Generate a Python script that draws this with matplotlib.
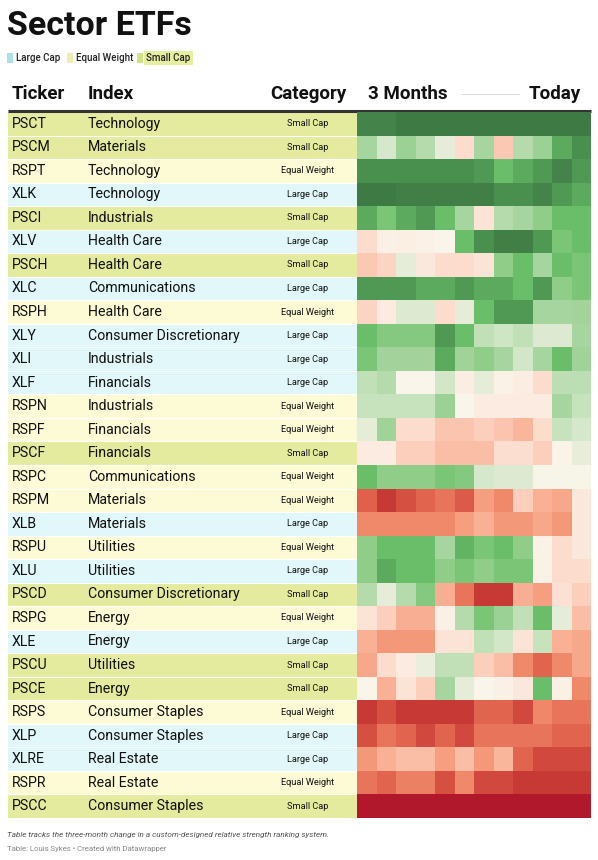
import matplotlib
matplotlib.use("Agg")
import matplotlib.pyplot as plt
import numpy as np
from matplotlib.colors import LinearSegmentedColormap
from matplotlib.patches import Rectangle

plt.rcParams['font.family'] = ['Roboto', 'DejaVu Sans']

# --- data ---
tickers = ["PSCT", "PSCM", "RSPT", "XLK", "PSCI", "XLV", "PSCH", "XLC", "RSPH", "XLY",
           "XLI", "XLF", "RSPN", "RSPF", "PSCF", "RSPC", "RSPM", "XLB", "RSPU", "XLU",
           "PSCD", "RSPG", "XLE", "PSCU", "PSCE", "RSPS", "XLP", "XLRE", "RSPR", "PSCC"]
indexes = ["Technology", "Materials", "Technology", "Technology", "Industrials", "Health Care",
           "Health Care", "Communications", "Health Care", "Consumer Discretionary",
           "Industrials", "Financials", "Industrials", "Financials", "Financials",
           "Communications", "Materials", "Materials", "Utilities", "Utilities",
           "Consumer Discretionary", "Energy", "Energy", "Utilities", "Energy",
           "Consumer Staples", "Consumer Staples", "Real Estate", "Real Estate", "Consumer Staples"]
categories = ["Small Cap", "Small Cap", "Equal Weight", "Large Cap", "Small Cap", "Large Cap",
              "Small Cap", "Large Cap", "Equal Weight", "Large Cap", "Large Cap", "Large Cap",
              "Equal Weight", "Equal Weight", "Small Cap", "Equal Weight", "Equal Weight",
              "Large Cap", "Equal Weight", "Large Cap", "Small Cap", "Equal Weight", "Large Cap",
              "Small Cap", "Small Cap", "Equal Weight", "Large Cap", "Large Cap", "Equal Weight",
              "Small Cap"]

# relative strength score, 12 steps from 3 months ago to today (-10 weak .. +10 strong)
strength = [
    [9, 9, 10, 10, 10, 10, 10, 10, 10, 10, 10, 10],
    [5, 3, 5.5, 4.5, 2, -2, 5, -3, 4.5, 5.5, 7.5, 8.5],
    [8.5, 8.5, 8.5, 8.5, 8.5, 8.5, 8, 7, 7.5, 8, 9, 8],
    [10, 10, 9.5, 9.5, 9.5, 9.5, 9.5, 8.5, 8.5, 9, 8, 7.5],
    [7.5, 6.5, 7.5, 8, 7, 5, -1.5, 4.5, 5, 6, 7, 7],
    [-2, -0.5, -0.7, -0.3, 0, 7, 8.5, 9.5, 9.5, 8, 6.5, 7],
    [-3, -2.5, 2, -1.2, -2, -2, -1.5, 6, 7, 5, 7, 6.5],
    [8, 8, 8, 7.5, 7.5, 8, 7.5, 7.5, 7, 8, 6, 6.5],
    [-2.5, -1, 2.5, 2.5, -2, 2, 7, 8, 8, 5, 5, 5.2],
    [7, 6.3, 6.3, 6.3, 8, 7, 4, 3.5, 4, 2.5, 2.5, 5],
    [6.5, 5.2, 5.2, 5.2, 7.5, 5.3, 6, 5, 3.3, 5, 7, 5.3],
    [4, 4.5, 0, 0, 3.3, -0.8, 2, -0.3, -0.8, -2, 4.2, 4.2],
    [3.8, 3.8, 3.8, 3.8, 5.5, 0, -1, -1, -1, -1, 5, 3.8],
    [2, 5.3, -2, -2, -3.2, -3.2, -2.7, -3.2, -3.8, -2, 3.8, 3],
    [-1, -1, -2.7, -2.7, -3.5, -3.5, -3.5, -1.8, -1.8, -2.7, -0.2, 1.8],
    [7, 6, 6, 6, 6.5, 6.3, 3, 2.5, 2.5, 0.3, 0.3, 0.3],
    [-7, -8.7, -7.7, -6.8, -6.2, -7.2, -4.7, -5.5, -2.7, -4, -4.3, -1.2],
    [-5.5, -5.5, -5.5, -5.5, -5.5, -4.7, -4, -5, -5, -4.3, -5, -1.2],
    [6, 7, 7, 7, 5, 7.3, 6.5, 7, 6, -0.3, -2, -1.2],
    [6, 7.5, 7, 7, 6, 6.5, 6, 6.5, 6.5, -0.3, -2, -2],
    [4.5, 2, 4.5, 6.3, -4.1, -6.2, -8.7, -8.7, -4.1, -4.7, -1.7, -2.7],
    [-1.5, -2.7, -4.1, -4.1, -0.5, 4.5, 6.5, 5.5, 4, 7, 2, -3.5],
    [-4, -5, -5, -5, -1.5, -1.5, 4, 3.3, -1.5, 3.8, -4, -4.3],
    [-4.3, -2, -1, 1.5, 4, 4, -2.7, -3.5, -5.5, -6.8, -5.5, -4.3],
    [0, -4, -1.5, -2.7, 5, 2, 0, -0.5, -1.2, 7, -0.5, -5.5],
    [-8.7, -7.7, -8.7, -8.7, -8.7, -8.7, -6.8, -6.8, -8, -5.6, -6.2, -6.2],
    [-7.7, -6.2, -6.8, -8, -6.8, -8, -6.2, -6.2, -6.2, -6.2, -6.8, -6.8],
    [-5, -4, -3.5, -3.5, -4.7, -3.5, -5, -3.8, -6.8, -8, -8, -8],
    [-6.2, -6.8, -5.8, -5.8, -7.7, -5.5, -8, -8, -8.7, -8.7, -8.7, -8.7],
    [-10, -10, -10, -10, -10, -10, -10, -10, -10, -10, -10, -10],
]

# --- styles ---
cat_bg = {"Large Cap": "#e1f7f9", "Equal Weight": "#fdfbd6", "Small Cap": "#e4eb9f"}
cat_key = {"Large Cap": "#ace0e6", "Equal Weight": "#f1ecb1", "Small Cap": "#d3e286"}

anchors = [(-10, "#b2182b"), (-8.7, "#c83a35"), (-7, "#e0604c"), (-5.5, "#f08a6a"),
           (-4, "#f9b195"), (-2.5, "#fcd4c3"), (-1, "#fbebe0"), (0, "#faf5ea"),
           (2, "#e5ecd8"), (3.5, "#cfe6c5"), (5, "#a8d5a0"), (6, "#8fcd89"),
           (7, "#6bbf69"), (8, "#4f9a54"), (9, "#448449"), (10, "#3e7a44")]
cmap = LinearSegmentedColormap.from_list(
    "rs", [((v + 10) / 20, c) for v, c in anchors])

W, H = 598, 860
fig = plt.figure(figsize=(W / 100, H / 100), dpi=100)
bg = fig.add_axes([0, 0, 1, 1])
bg.set_xlim(0, W)
bg.set_ylim(H, 0)
bg.axis("off")

top, bottom = 112, 818
row_h = (bottom - top) / len(tickers)
hx0, hx1 = 357, 591

# title + legend
bg.text(7, 26, "Sector ETFs", fontsize=24.5, fontweight="bold", color="#111111", va="center")
leg_x = 7
for cat in ["Large Cap", "Equal Weight", "Small Cap"]:
    bg.add_patch(Rectangle((leg_x, 52.5), 6, 10, color=cat_key[cat], lw=0))
    if cat == "Small Cap":
        bg.text(leg_x + 9, 58, cat, fontsize=7, fontweight="medium", color="#222222",
                va="center", bbox=dict(boxstyle="square,pad=0.25", fc="#e6ef9f", ec="none"))
        w = 50
    else:
        bg.text(leg_x + 9, 58, cat, fontsize=7, fontweight="medium", color="#222222", va="center")
        w = 60 if cat == "Large Cap" else 70
    leg_x += w

# header
hy = 94
hdr = dict(fontsize=13.5, fontweight="bold", color="#111111", va="center")
bg.text(12, hy, "Ticker", **hdr)
bg.text(88, hy, "Index", **hdr)
bg.text(346, hy, "Category", ha="right", **hdr)
bg.text(368, hy, "3 Months", **hdr)
bg.text(581, hy, "Today", ha="right", **hdr)
bg.plot([461, 519], [hy, hy], color="#dddddd", lw=0.8)
bg.plot([8, 591], [110.5, 110.5], color="#333333", lw=2.2, solid_capstyle="butt")

# table rows
for i, (tk, ix, cat) in enumerate(zip(tickers, indexes, categories)):
    y0 = top + i * row_h
    yc = y0 + row_h / 2
    bg.add_patch(Rectangle((8, y0), hx0 - 8, row_h, color=cat_bg[cat], lw=0))
    if i > 0:
        bg.plot([8, hx0], [y0, y0], color="white", lw=0.8)
    bg.text(12, yc, tk, fontsize=10.2, color="#111111", va="center")
    bg.text(88, yc, ix, fontsize=10.2, color="#111111", va="center")
    bg.text(308, yc, cat, fontsize=6.6, color="#111111", va="center", ha="center")

# heatmap
hm = fig.add_axes([hx0 / W, 1 - bottom / H, (hx1 - hx0) / W, (bottom - top) / H])
vals = np.array(strength)
hm.pcolormesh(vals, cmap=cmap, vmin=-10, vmax=10)
hm.set_xlim(0, vals.shape[1])
hm.set_ylim(vals.shape[0], 0)
hm.axis("off")

# footer
bg.text(7, 835, "Table tracks the three-month change in a custom-designed relative strength ranking system.",
        fontsize=5.9, style="italic", color="#555555", va="center")
bg.text(7, 849, "Table: Louis Sykes \u2022 Created with Datawrapper",
        fontsize=5.6, color="#888888", va="center")

fig.savefig("out.png", dpi=100)
